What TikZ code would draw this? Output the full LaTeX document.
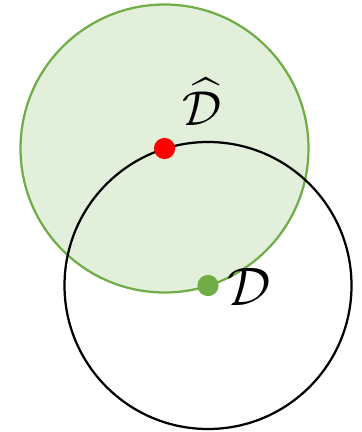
\documentclass[tikz,border=0pt]{standalone}
\usepackage{amsmath}
\usepackage{amssymb}
\usepackage{xcolor}
\usepackage{tikz}
\usetikzlibrary{positioning}
\definecolor{distGreen}{HTML}{70AD47}
\definecolor{distFill}{HTML}{E2EFDA}
\definecolor{distRed}{HTML}{FF0000}

\begin{document}
\begin{tikzpicture}[
    x=0.025cm, y=-0.025cm,
    estball/.style={
        draw=distGreen, fill=distFill, line width=1.6pt
    },
    trueball/.style={
        draw=black, line width=1.6pt
    },
    centerdot/.style={
        circle, inner sep=0pt, minimum size=0.53cm
    },
    distlbl/.style={
        inner sep=0pt, text=black, font=\Huge
    },
]
\useasboundingbox (0,0) rectangle (361,432);

%% =================================================================
%% Centres of the two balls
%% =================================================================
\coordinate (estc) at (164.5,148.5);
\coordinate (truec) at (208,285.5);

%% =================================================================
%% Balls (estimated one filled, true one outlined)
%% =================================================================
\draw[estball] (estc) circle [radius=144];
\draw[trueball] (truec) circle [radius=143.5];

%% =================================================================
%% Centre dots and labels
%% =================================================================
\node[centerdot, fill=distRed] (estdot) at (estc) {};
\node[centerdot, fill=distGreen] (truedot) at (truec) {};

\node[distlbl, scale=1.4] (estlbl)
    at (202,102) {$\widehat{\mathcal{D}}$};
\node[distlbl, scale=1.55] (truelbl)
    at (249,287) {$\mathcal{D}$};

\end{tikzpicture}
\end{document}
